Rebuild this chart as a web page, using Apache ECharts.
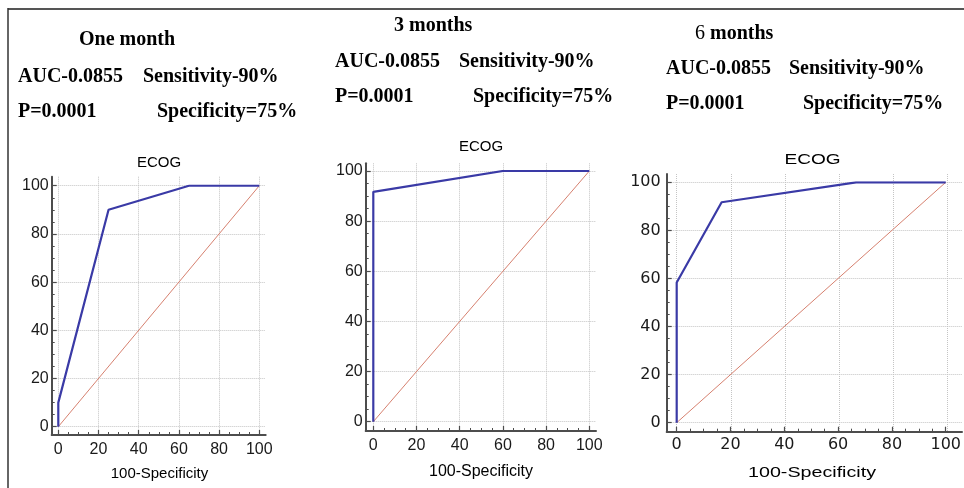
<!DOCTYPE html>
<html><head><meta charset="utf-8">
<script src="https://cdn.jsdelivr.net/npm/echarts@6/dist/echarts.min.js"></script>
<style>html,body{margin:0;padding:0;background:#fff}#c{width:964px;height:488px}</style>
</head><body><div id="c"></div><script>
// ---- data ----
const panelTitles = ['One month', '3 months', '6 months'];
const aucLabel = 'AUC-0.0855';
const sensLabel = 'Sensitivity-90%';
const pLabel = 'P=0.0001';
const specLabel = 'Specificity=75%';
const plotTitle = 'ECOG';
const xAxisName = '100-Specificity';
const axisMin = 0, axisMax = 100, tickStep = 20;

const rocX1 = [0, 0, 25, 65, 100];
const rocY1 = [0, 10, 90, 100, 100];
const rocX2 = [0, 0, 60, 100];
const rocY2 = [0, 91.7, 100, 100];
const rocX3 = [0, 0, 16.7, 66.7, 100];
const rocY3 = [0, 58.3, 91.7, 100, 100];
const refX = [0, 100];
const refY = [0, 100];

// ---- layout (pixels) ----
const L = [
  {x0: 58.3, x100: 259.3, y0: 426.7, y100: 185.7, axL: 51.7, axB: 435, top: 176.7, right: 265.7,
   font: 'Liberation Sans', fs: 16, lblY: 3, lblX: 6.5},
  {x0: 373.3, x100: 589.3, y0: 421.7, y100: 171, axL: 365.7, axB: 431, top: 163.3, right: 596,
   font: 'Liberation Sans', fs: 16, lblY: 3, lblX: 7},
  {x0: 676.7, x100: 947.7, y0: 422.7, y100: 182.3, axL: 666.7, axB: 431.7, top: 174, right: 962,
   font: 'DejaVu Sans', fs: 16, lblY: 6, lblX: 5}
];
const rocs = [[rocX1, rocY1], [rocX2, rocY2], [rocX3, rocY3]];
const zip = (a, b) => a.map((v, i) => [v, b[i]]);

const AX = '#4d4d4d', GRIDC = '#c4c4c4', BLUE = '#3a3aa6', RED = '#d6806f';

const grid = [], xAxis = [], yAxis = [], series = [];
L.forEach((p, i) => {
  grid.push({left: p.x0, top: p.y100, width: p.x100 - p.x0, height: p.y0 - p.y100, containLabel: false});
  const common = (lm) => ({
    type: 'value', gridIndex: i, min: axisMin, max: axisMax, interval: tickStep,
    axisLine: {show: false, onZero: false},
    axisTick: {show: true, inside: true, length: 5, lineStyle: {color: AX, width: 1.2}},
    minorTick: {show: true, splitNumber: 4, length: 3, lineStyle: {color: AX, width: 1}},
    axisLabel: {show: true, margin: lm, color: '#1a1a1a', fontFamily: p.font, fontSize: p.fs},
    splitLine: {show: false}
  });
  xAxis.push(Object.assign(common(p.lblX), {position: 'bottom', offset: p.axB - p.y0}));
  yAxis.push(Object.assign(common(p.lblY), {position: 'left', offset: p.x0 - p.axL}));
});
L.forEach((p, i) => {
  const sx = (p.x100 - p.x0) / 100, sy = (p.y0 - p.y100) / 100;
  grid.push({left: p.axL, top: p.top, width: p.right - p.axL, height: p.axB - p.top});
  const frame = (mn, mx) => ({
    type: 'value', gridIndex: 3 + i, min: mn, max: mx, splitNumber: 5, minInterval: tickStep, maxInterval: tickStep,
    axisLine: {show: true, onZero: false, lineStyle: {color: AX, width: 2}},
    axisTick: {show: false}, axisLabel: {show: false},
    splitLine: {show: true, showMinLine: false, showMaxLine: false, lineStyle: {color: GRIDC, type: 'dotted', width: 1}}
  });
  xAxis.push(Object.assign(frame((p.axL - p.x0) / sx, 100 + (p.right - p.x100) / sx), {position: 'bottom'}));
  yAxis.push(Object.assign(frame(-(p.axB - p.y0) / sy, 100 + (p.y100 - p.top) / sy), {position: 'left'}));
});
L.forEach((p, i) => {
  series.push({type: 'line', xAxisIndex: i, yAxisIndex: i, data: zip(refX, refY), showSymbol: false,
    lineStyle: {color: RED, width: 1}, z: 2, silent: true});
  series.push({type: 'line', xAxisIndex: i, yAxisIndex: i, data: zip(rocs[i][0], rocs[i][1]), showSymbol: false,
    lineStyle: {color: BLUE, width: 2.2}, z: 3, silent: true});
});

// ---- texts ----
const serifB = 'bold 20px "Liberation Serif", "Times New Roman", serif';
const serifR = '20px "Liberation Serif", "Times New Roman", serif';
function txt(x, y, text, font, align, scaleX, rich) {
  const st = {text: text, font: font, fill: '#000', textAlign: align, textVerticalAlign: 'middle',
    align: align, verticalAlign: 'middle'};
  if (rich) st.rich = rich;
  return {type: 'text', x: x, y: y, scaleX: scaleX || 1, style: st, silent: true};
}
const head = [
  {t: [79, 40], a: [18, 77], s: [143, 77], p: [18, 112], sp: [157, 112]},
  {t: [394, 26], a: [335, 62], s: [459, 62], p: [335, 97], sp: [473, 97]},
  {t: [695, 34], a: [666, 69], s: [789, 69], p: [666, 104], sp: [803, 104]}
];
const graphic = [
  {type: 'line', shape: {x1: 8, y1: 9, x2: 964, y2: 9}, style: {stroke: '#555', lineWidth: 2}, silent: true},
  {type: 'line', shape: {x1: 8, y1: 8, x2: 8, y2: 488}, style: {stroke: '#333', lineWidth: 1.5}, silent: true}
];
head.forEach((h, i) => {
  if (i === 2) {
    graphic.push(txt(h.t[0], h.t[1], '{r|6} {b|months}', serifB, 'left', 1,
      {r: {font: serifR, fill: '#000'}, b: {font: serifB, fill: '#000'}}));
  } else {
    graphic.push(txt(h.t[0], h.t[1], panelTitles[i], serifB, 'left'));
  }
  graphic.push(txt(h.a[0], h.a[1], aucLabel, serifB, 'left'));
  graphic.push(txt(h.s[0], h.s[1], sensLabel, serifB, 'left'));
  graphic.push(txt(h.p[0], h.p[1], pLabel, serifB, 'left'));
  graphic.push(txt(h.sp[0], h.sp[1], specLabel, serifB, 'left'));
});
const sans = (fs) => fs + 'px "Liberation Sans", Arial, sans-serif';
graphic.push(txt(159, 162.5, plotTitle, sans(15), 'center'));
graphic.push(txt(159.5, 474, xAxisName, sans(15), 'center'));
graphic.push(txt(481, 146.5, plotTitle, sans(15), 'center'));
graphic.push(txt(481, 472, xAxisName, sans(16), 'center'));
graphic.push(txt(812.5, 159.5, plotTitle, sans(15), 'center', 1.27));
graphic.push(txt(812, 473, xAxisName, sans(15.5), 'center', 1.27));

const chart = echarts.init(document.getElementById('c'), null, {renderer: 'canvas'});
chart.setOption({animation: false, backgroundColor: '#fff', grid, xAxis, yAxis, series, graphic});
</script></body></html>
